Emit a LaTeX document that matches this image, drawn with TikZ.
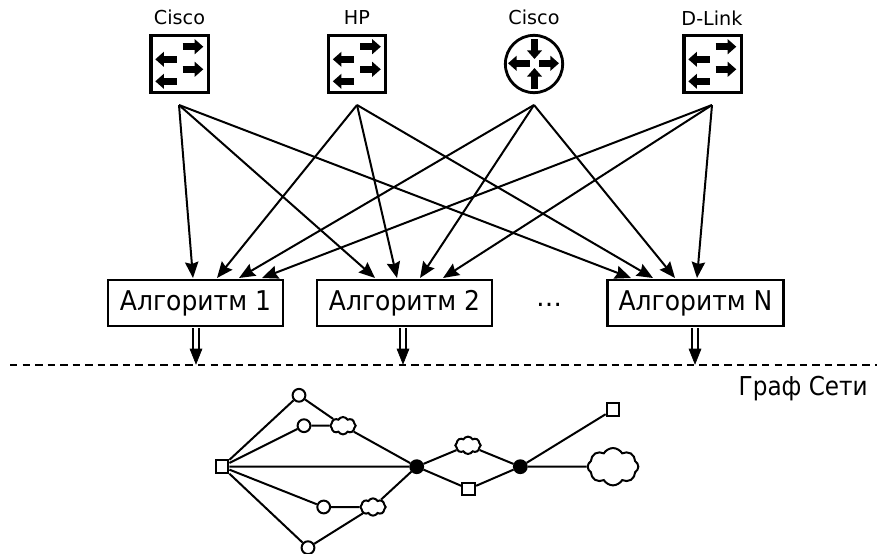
\documentclass[tikz,border=0pt]{standalone}
\usepackage{fontspec}
\setmainfont{DejaVu Sans}
\newfontfamily\narrowface[FakeStretch=0.92]{DejaVu Sans}
\newfontfamily\graphface[FakeStretch=0.89]{DejaVu Sans}
\usetikzlibrary{arrows.meta,shapes.symbols}
\tikzset{
 x=0.75pt,y=-0.75pt,
 block/.style={line width=5.2pt,-{Triangle[length=6.5pt,width=11pt]}},
 swbox/.style={draw,line width=2.5pt,minimum size=43pt,inner sep=0},
 rtbox/.style={draw,line width=2.1pt,circle,minimum size=43pt,inner sep=0},
 switchmark/.pic={
  \draw[block] (3.2,-17.3)--(23.8,-17.3);
  \draw[block] (3.2,5.3)--(23.8,5.3);
  \draw[block] (-2.8,-4.7)--(-24.2,-4.7);
  \draw[block] (-2.8,17.3)--(-24.2,17.3);
 },
 routermark/.pic={
  \draw[block] (0.5,-25)--(0.5,-5);
  \draw[block] (0.5,25)--(0.5,4);
  \draw[block] (-4,-0.7)--(-26,-0.7);
  \draw[block] (5,-0.7)--(25,-0.7);
 },
 lab/.style={anchor=base,font=\fontsize{14.4pt}{16pt}\selectfont,inner sep=0},
 algo/.style={draw,line width=1.6pt,minimum height=35pt,inner sep=0,font=\narrowface\fontsize{20.4pt}{22pt}\selectfont},
 link/.style={line width=1.5pt,-{Stealth[length=12pt,width=10pt,inset=1.5pt]}},
 rail/.style={line width=1.1pt},
 railhead/.style={fill=black,draw=black,line width=0.4pt},
 sep/.style={line width=1.4pt,dash pattern=on 5.6pt off 3.8pt},
 edge/.style={line width=1.5pt},
 gsq/.style={draw,fill=white,line width=1.5pt,minimum size=9.6pt,inner sep=0},
 gc/.style={draw,fill=white,circle,line width=1.5pt,minimum size=9.6pt,inner sep=0},
 gd/.style={draw,fill=black,circle,line width=1.5pt,minimum size=9.6pt,inner sep=0},
 gcl/.style={draw,fill=white,cloud,cloud puffs=8,cloud puff arc=120,aspect=1.35,line width=1.5pt,inner sep=0},
}
\begin{document}
\begin{tikzpicture}
\useasboundingbox (0,0) rectangle (877,553);
% labels
\node[lab] (l1) at (179.5,24) {Cisco};
\node[lab] (l2) at (357,24) {HP};
\node[lab] (l3) at (534,24) {Cisco};
\node[lab] (l4) at (712,25) {D-Link};
% devices
\node[swbox] (d1) at (179.5,64) {};
\node[swbox] (d2) at (357,64) {};
\node[rtbox] (d3) at (534,64) {};
\node[swbox] (d4) at (712.5,64) {};
\pic at (d1.center) {switchmark};
\pic at (d2.center) {switchmark};
\pic at (d3.center) {routermark};
\pic at (d4.center) {switchmark};
% apexes
\coordinate (s1) at (179,105);
\coordinate (s2) at (357,105);
\coordinate (s3) at (534,105);
\coordinate (s4) at (712,105);
% algorithms
\node[algo,minimum width=131pt] (a1) at (195.5,303) {Алгоритм 1};
\node[algo,minimum width=131pt] (a2) at (404.5,303) {Алгоритм 2};
\node[algo,minimum width=132pt] (a3) at (695.5,303) {Алгоритм N};
\node[font=\fontsize{19.5pt}{22pt}\selectfont,inner sep=0] (dots) at (549,304.5) {\dots};
% targets
\foreach \n/\x in {11/193,12/217,13/239,14/262,21/375,22/397,23/420,24/443,31/631,32/653,33/675,34/697}
  \coordinate (t\n) at (\x,278);
\foreach \s in {1,2,3,4}{
  \draw[link] (s\s) -- (t1\s);
  \draw[link] (s\s) -- (t2\s);
  \draw[link] (s\s) -- (t3\s);
}
% separator
\coordinate (sepl) at (10,365);
\coordinate (sepr) at (877,365);
\draw[sep] (sepl) -- (sepr);
% double arrows
\foreach \i/\x in {1/196,2/403,3/695}{
  \coordinate (b\i) at (\x,328);
  \coordinate (e\i) at (\x,364);
  \draw[rail] ([xshift=-2.1pt]b\i) -- ([xshift=-2.1pt,yshift=8pt]e\i);
  \draw[rail] ([xshift=2.1pt]b\i) -- ([xshift=2.1pt,yshift=8pt]e\i);
  \fill[railhead] (e\i) -- ++(-6,-15) -- ++(12,0) -- cycle;
}
\node[font=\graphface\fontsize{19.5pt}{22pt}\selectfont,inner sep=0,anchor=east] (gt) at (868,389) {Граф Сети};
% graph
\node[gsq] (n0) at (222,466.7) {};
\node[gc] (c1) at (299,395.3) {};
\node[gc] (c2) at (304,425.7) {};
\node[gc] (c3) at (323.7,507) {};
\node[gc] (c4) at (308,547.7) {};
\node[gd] (g1) at (416.7,466.7) {};
\node[gd] (g2) at (520.3,466.7) {};
\node[gsq] (q1) at (468.7,489) {};
\node[gsq] (q2) at (613,409.7) {};
\node[gcl,minimum width=19pt,minimum height=13pt] (k1) at (343,425.7) {};
\node[gcl,minimum width=19pt,minimum height=13pt] (k2) at (373,507) {};
\node[gcl,minimum width=19pt,minimum height=13pt] (k3) at (468,445.3) {};
\node[gcl,minimum width=38pt,minimum height=28pt] (k4) at (613,466.7) {};
\draw[edge] (n0)--(c1) (n0)--(c2) (n0)--(g1) (n0)--(c3) (n0)--(c4)
 (c1)--(k1) (c2)--(k1) (k1)--(g1) (c3)--(k2) (c4)--(k2) (k2)--(g1)
 (g1)--(k3) (k3)--(g2) (g1)--(q1) (q1)--(g2) (g2)--(q2) (g2)--(k4);
\end{tikzpicture}
\end{document}
